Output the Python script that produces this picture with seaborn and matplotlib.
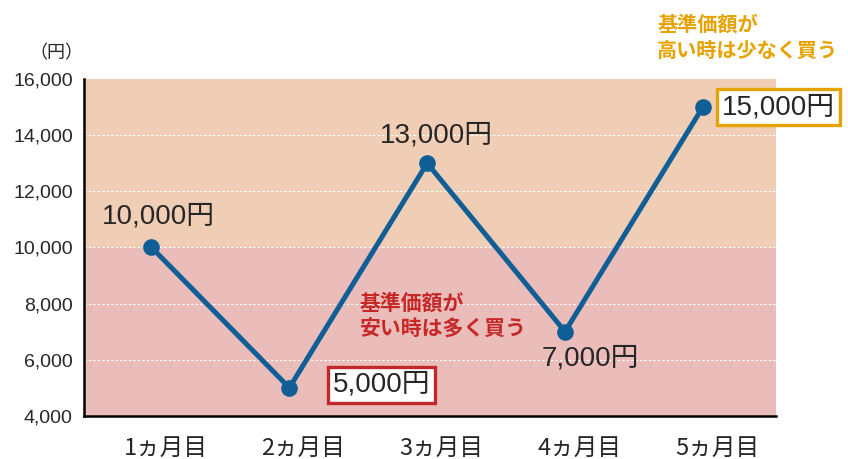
import matplotlib.pyplot as plt
import matplotlib.transforms as mtransforms
import seaborn as sns
import pandas as pd

sns.set_theme(style="white")
plt.rcParams['font.family'] = ['Liberation Sans', 'Noto Sans CJK JP', 'DejaVu Sans']
jp_font = ['Noto Sans CJK JP', 'DejaVu Sans']

# Data
months = ['1ヵ月目', '2ヵ月目', '3ヵ月目', '4ヵ月目', '5ヵ月目']
prices = [10000, 5000, 13000, 7000, 15000]
point_labels = ['10,000円', '5,000円', '13,000円', '7,000円', '15,000円']
y_ticks = [4000, 6000, 8000, 10000, 12000, 14000, 16000]
threshold = 10000

line_color = '#0F5F96'
df = pd.DataFrame({'month': months, 'price': prices})

fig = plt.figure(figsize=(8.48, 4.59), dpi=100)
ax = fig.add_axes([0.099, 0.094, 0.816, 0.734])

# background bands
ax.axhspan(threshold, 16000, color='#F0CDB5', zorder=0, lw=0)
ax.axhspan(4000, threshold, color='#EBBDBA', zorder=0, lw=0)
for y in y_ticks[1:-1]:
    ax.axhline(y, color='white', lw=0.8, ls=(0, (2, 2)), zorder=1)

sns.lineplot(data=df, x='month', y='price', ax=ax, color=line_color, lw=3.6,
             marker='o', markersize=12, markeredgewidth=0, sort=False, zorder=3)

ax.set_ylim(4000, 16000)
ax.set_xlim(-0.49, 4.53)
ax.set_yticks(y_ticks)
ax.set_yticklabels([f'{v:,}' for v in y_ticks], fontsize=14)
ax.set_xticks(range(len(months)))
ax.set_xticklabels(months, fontsize=17, family=jp_font)
ax.tick_params(axis='x', pad=15, length=0)
ax.tick_params(axis='y', pad=8, length=0)
# month labels sit a little right of the points in the original
shift = mtransforms.ScaledTranslation(0.14, 0, fig.dpi_scale_trans)
for lbl in ax.get_xticklabels():
    lbl.set_transform(lbl.get_transform() + shift)
ax.set_xlabel('')
ax.set_ylabel('')
for s in ['top', 'right']:
    ax.spines[s].set_visible(False)
for s in ['left', 'bottom']:
    ax.spines[s].set_color('black')
    ax.spines[s].set_linewidth(1.8)

# point labels
lab_kw = dict(ha='center', va='center', fontsize=20)
ax.text(0.05, 11100, point_labels[0], **lab_kw)
ax.text(2.07, 14000, point_labels[2], **lab_kw)
ax.text(3.18, 6040, point_labels[3], **lab_kw)
ax.text(1.67, 5100, point_labels[1], clip_on=False,
        bbox=dict(boxstyle='square,pad=0.18', fc='white', ec='#C0282A', lw=2.4), **lab_kw)
ax.text(4.55, 15000, point_labels[4], clip_on=False,
        bbox=dict(boxstyle='square,pad=0.18', fc='white', ec='#E8A200', lw=2.4), **lab_kw)

# annotations
ax.text(1.51, 7540, '基準価額が\n安い時は多く買う', ha='left', va='center', fontsize=15,
        fontweight='bold', color='#C62828', linespacing=1.3, family=jp_font)
fig.text(0.775, 0.919, '基準価額が\n高い時は少なく買う', ha='left', va='center', fontsize=14.5,
         fontweight='bold', color='#E8A200', linespacing=1.3, family=jp_font)
fig.text(0.067, 0.884, '（円）', ha='center', va='center', fontsize=13, family=jp_font)

fig.savefig('out.png', dpi=100)
